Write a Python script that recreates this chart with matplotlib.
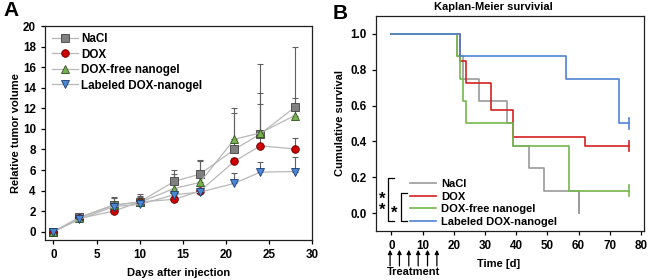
import matplotlib
matplotlib.use("Agg")
import matplotlib.pyplot as plt

plt.rcParams['font.family'] = ['Liberation Sans', 'DejaVu Sans']
plt.rcParams['font.weight'] = 'bold'
plt.rcParams['axes.labelweight'] = 'bold'

# ── Panel A: tumor volume ─────────────────────────────────────────────────────
days = [0, 3, 7, 10, 14, 17, 21, 24, 28]
groups = ["NaCl", "DOX", "DOX-free nanogel", "Labeled DOX-nanogel"]
nacl_mean = [0, 1.4, 2.6, 2.9, 4.9, 5.6, 8.0, 9.5, 12.1]
nacl_top = [0, 1.5, 3.4, 3.65, 6.0, 7.0, 12.0, 16.3, 18.0]
dox_mean = [0, 1.3, 2.0, 2.9, 3.15, 3.95, 6.85, 8.35, 8.05]
dox_top = [0, 1.4, 2.2, 3.5, 3.4, 4.2, 7.2, 12.4, 9.15]
free_mean = [0, 1.35, 2.6, 2.85, 4.2, 4.8, 9.0, 9.6, 11.3]
free_top = [0, 1.45, 3.3, 3.4, 5.6, 6.9, 11.5, 13.5, 13.0]
lab_mean = [0, 1.2, 2.45, 2.65, 3.6, 3.85, 4.7, 5.8, 5.85]
lab_top = [0, 1.3, 2.7, 2.9, 3.9, 4.1, 5.7, 6.75, 7.3]

# ── Panel B: Kaplan-Meier steps (time, survival) ──────────────────────────────
km_nacl_t = [0, 21, 23, 28, 37, 39, 44, 49, 60]
km_nacl_s = [1.0, 0.875, 0.75, 0.625, 0.5, 0.375, 0.25, 0.125, 0.0]
km_dox_t = [0, 22, 24, 32, 39, 62, 76]
km_dox_s = [1.0, 0.85, 0.725, 0.575, 0.425, 0.375, 0.375]
km_free_t = [0, 21, 22, 23, 24, 39, 57, 76]
km_free_s = [1.0, 0.875, 0.75, 0.625, 0.5, 0.375, 0.125, 0.125]
km_lab_t = [0, 22, 56, 73, 76]
km_lab_s = [1.0, 0.875, 0.75, 0.5, 0.5]
treatment_days = [-0.4, 2.6, 5.6, 8.6, 11.6, 14.6]

fig = plt.figure(figsize=(6.5, 2.8), dpi=100)
axA = fig.add_axes([0.069, 0.143, 0.411, 0.764])
axB = fig.add_axes([0.578, 0.175, 0.413, 0.768])

styles = [
    ("s", "#808080", "#404040"),
    ("o", "#d00000", "#600000"),
    ("^", "#78b050", "#305020"),
    ("v", "#4a86d4", "#1a3c70"),
]
means = [nacl_mean, dox_mean, free_mean, lab_mean]
tops = [nacl_top, dox_top, free_top, lab_top]

for name, m, t, (mk, fc, ec) in zip(groups, means, tops, styles):
    err = [b - a for a, b in zip(m, t)]
    axA.errorbar(days, m, yerr=[[0] * len(m), err], fmt="none",
                 ecolor="#606060", elinewidth=0.8, capsize=2, capthick=0.8, zorder=2)
for name, m, (mk, fc, ec) in zip(groups, means, styles):
    axA.plot(days, m, color="#b8b8b8", lw=0.9, marker=mk, ms=5.5,
             mfc=fc, mec=ec, mew=0.6, label=name, zorder=3)

axA.set_xlim(-1, 30)
axA.set_ylim(-0.8, 20)
axA.set_xticks(range(0, 31, 5))
axA.set_yticks(range(0, 21, 2))
axA.set_xlabel("Days after injection", fontsize=8, labelpad=5)
axA.set_ylabel("Relative tumor volume", fontsize=8, labelpad=1)
axA.legend(loc="upper left", frameon=False, fontsize=8.4, handlelength=2.2,
           labelspacing=0.3, handletextpad=0.3, borderaxespad=0.2,
           bbox_to_anchor=(0.0, 1.0))

# ── Panel B ───────────────────────────────────────────────────────────────────
km_colors = ["#999999", "#d42020", "#74b84c", "#4d84d4"]
km_data = [(km_nacl_t, km_nacl_s), (km_dox_t, km_dox_s),
           (km_free_t, km_free_s), (km_lab_t, km_lab_s)]
for name, (tt, ss), col in zip(groups, km_data, km_colors):
    axB.step(tt, ss, where="post", color=col, lw=1.2, label=name)
    if ss[-1] > 0:
        axB.plot([tt[-1], tt[-1]], [ss[-1] - 0.03, ss[-1] + 0.03], color=col, lw=1.2)
    else:
        axB.plot([tt[-1], tt[-1]], [ss[-2], ss[-1]], color=col, lw=1.2)

axB.set_xlim(-5, 81)
axB.set_ylim(-0.1, 1.1)
axB.set_xticks(range(0, 81, 10))
axB.set_yticks([0.0, 0.2, 0.4, 0.6, 0.8, 1.0])
axB.set_yticklabels(["0.0", "0.2", "0.4", "0.6", "0.8", "1.0"])
axB.set_ylabel("Cumulative survival", fontsize=8, labelpad=4)
axB.set_xlabel("Time [d]", fontsize=8)
axB.xaxis.set_label_coords(0.456, -0.13)
axB.set_title("Kaplan-Meier survivial", fontsize=8, fontweight="bold", pad=4, x=0.44)
axB.legend(loc="lower left", frameon=False, fontsize=8, handlelength=2.4,
           labelspacing=0.22, handletextpad=0.4, borderaxespad=0,
           bbox_to_anchor=(0.11, 0.0))

# significance brackets
axB.plot([1.0, -1.0, -1.0, 1.0], [0.195, 0.195, -0.046, -0.046], color="black", lw=0.9)
axB.plot([5.0, 3.1, 3.1, 5.0], [0.11, 0.11, -0.046, -0.046], color="black", lw=0.9)
axB.text(-2.8, 0.045, "*\n*", fontsize=12, ha="center", va="center", linespacing=0.7)
axB.text(1.0, 0.0, "*", fontsize=12, ha="center", va="center")

# treatment arrows
for d in treatment_days:
    axB.annotate("", xy=(d, -0.205), xytext=(d, -0.295), xycoords="data",
                 arrowprops=dict(arrowstyle="-|>", color="black", lw=0.9,
                                 mutation_scale=6, shrinkA=0, shrinkB=0),
                 annotation_clip=False)
axB.text(7.0, -0.33, "Treatment", fontsize=8, ha="center", va="center", clip_on=False)

for ax in (axA, axB):
    ax.tick_params(labelsize=8.4, length=3, width=0.9, direction="out")
    for lab in ax.get_xticklabels() + ax.get_yticklabels():
        lab.set_fontweight("bold")
    for sp in ax.spines.values():
        sp.set_linewidth(0.9)
        sp.set_color("#202020")

fig.text(0.005, 0.995, "A", fontsize=15, fontweight="bold", va="top", ha="left")
fig.text(0.512, 0.985, "B", fontsize=15, fontweight="bold", va="top", ha="left")

fig.savefig("out.png", dpi=100)
